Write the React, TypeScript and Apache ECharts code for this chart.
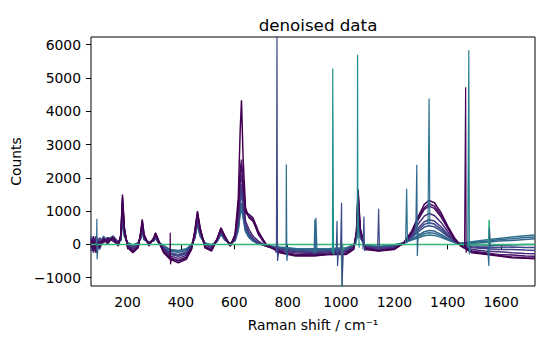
import React, { useEffect, useRef } from "react";
import * as echarts from "echarts";

// Raman shift grid (cm^-1) shared by the broad spectra
const shifts = [
  63, 72, 82, 95, 110, 125, 145, 165, 175, 181, 188, 200, 220, 240, 250, 255, 262, 280, 298, 305,
  315, 335, 360, 390, 420, 440, 452, 462, 472, 490, 515, 535, 550, 565, 585, 603, 615, 622, 627, 633,
  642, 655, 670, 690, 720, 770, 830, 900, 960, 1020, 1048, 1058, 1064, 1072, 1090, 1140, 1200, 1235, 1265, 1290,
  1312, 1330, 1350, 1375, 1400, 1425, 1450, 1490, 1540, 1590, 1640, 1690, 1727,
];

// denoised spectra (counts), from tallest (dark purple) to flattest (blue)
const specA = [
  150, -200, 100, -100, 150, 50, 200, -50, 300, 1500, 500, -100, -250, -100, 400, 750, 300, -50, 200, 350,
  150, -250, -450, -550, -450, -150, 400, 1000, 500, -100, -200, 150, 500, 250, -50, 300, 1400, 3400, 4330, 2600,
  1100, 800, 700, 350, 0, -250, -350, -350, -300, -300, -150, 400, 1650, 500, -150, -200, -150, 50, 400, 850,
  1200, 1320, 1250, 950, 550, 200, -50, -250, -300, -350, -400, -420, -430,
];
const specH = [
  0, 100, -250, 50, 120, 120, 180, -20, 280, 1400, 480, -80, -220, -80, 380, 700, 280, -20, 180, 330,
  120, -220, -420, -500, -420, -120, 380, 950, 480, -80, -180, 140, 480, 230, -40, 280, 1150, 2100, 2400, 1900,
  1000, 900, 800, 400, -20, -230, -330, -330, -300, -280, -120, 380, 1550, 450, -120, -190, -140, 40, 370, 800,
  1100, 1220, 1150, 880, 500, 170, -50, -230, -280, -330, -380, -400, -410,
];
const specB = [
  -100, 250, -150, 100, 50, 200, 100, 0, 250, 1300, 450, -50, -200, -50, 350, 650, 250, 0, 150, 300,
  100, -200, -400, -480, -380, -100, 350, 900, 450, -50, -150, 150, 450, 200, -50, 250, 1000, 2200, 2550, 1700,
  950, 850, 750, 300, -50, -200, -300, -300, -280, -250, -100, 350, 1450, 400, -100, -180, -120, 30, 350, 750,
  1050, 1150, 1080, 820, 480, 150, -50, -200, -250, -300, -320, -350, -360,
];
const specC = [
  50, -100, 250, -50, 200, 0, 250, 50, 200, 1200, 400, 0, -150, 0, 300, 600, 200, 50, 150, 280,
  100, -150, -350, -420, -330, -80, 300, 800, 400, 0, -100, 150, 400, 200, 0, 200, 800, 1800, 2100, 1500,
  700, 450, 250, 100, -50, -180, -250, -280, -250, -220, -80, 300, 1300, 350, -80, -150, -100, 20, 300, 620,
  850, 930, 870, 660, 380, 120, -40, -150, -200, -220, -250, -270, -280,
];
const specD = [
  -200, 150, -50, 200, 100, 150, 150, 0, 180, 1100, 350, 0, -120, 20, 250, 550, 180, 50, 130, 250,
  80, -120, -300, -360, -280, -50, 250, 750, 350, 0, -80, 120, 380, 180, 0, 180, 700, 1500, 1800, 1300,
  600, 350, 180, 50, -60, -150, -220, -240, -220, -200, -60, 250, 1150, 300, -60, -120, -80, 20, 250, 500,
  680, 740, 700, 530, 300, 100, -30, -100, -120, -150, -150, -170, -180,
];
const specI = [
  200, -250, 50, -150, 180, 80, 220, 20, 170, 1050, 330, 10, -100, 20, 240, 520, 170, 50, 120, 240,
  80, -100, -280, -330, -250, -40, 240, 720, 320, 10, -60, 110, 360, 160, 0, 170, 650, 1400, 1650, 1200,
  550, 320, 170, 40, -55, -140, -200, -220, -200, -180, -50, 220, 1080, 280, -50, -110, -60, 25, 230, 440,
  600, 650, 610, 460, 260, 90, -20, -80, -90, -90, -80, -90, -90,
];
const specE = [
  100, -150, 200, 0, 150, 100, 200, 50, 150, 1000, 300, 30, -80, 30, 220, 500, 160, 60, 120, 230,
  80, -80, -250, -300, -220, -30, 220, 700, 300, 20, -50, 100, 350, 150, 10, 150, 600, 1300, 1500, 1100,
  500, 300, 150, 30, -50, -120, -180, -200, -180, -160, -40, 200, 1000, 250, -40, -100, -50, 30, 200, 380,
  520, 560, 530, 400, 230, 80, -10, -50, -50, -30, -20, 0, 0,
];
const specF = [
  -50, 200, 0, 150, 100, 200, 150, 50, 130, 900, 280, 50, -50, 40, 200, 450, 150, 60, 110, 200,
  70, -60, -200, -240, -180, -20, 200, 650, 280, 30, -30, 90, 320, 140, 20, 130, 500, 1100, 1250, 950,
  450, 250, 120, 20, -40, -100, -150, -160, -150, -130, -30, 180, 900, 220, -30, -80, -30, 40, 160, 280,
  380, 420, 400, 300, 170, 60, 10, 30, 60, 100, 120, 150, 170,
];
const specJ = [
  -150, 100, 100, -50, 250, 50, 200, 60, 125, 850, 260, 55, -35, 45, 190, 420, 145, 65, 105, 190,
  65, -50, -170, -210, -150, -10, 190, 620, 260, 35, -20, 85, 310, 135, 25, 120, 460, 1000, 1150, 870,
  410, 220, 110, 20, -35, -90, -135, -145, -135, -115, -25, 165, 850, 210, -25, -70, -20, 45, 145, 240,
  320, 350, 335, 255, 150, 60, 25, 55, 95, 140, 170, 205, 225,
];
const specG = [
  250, -100, 150, 50, 200, 150, 250, 80, 120, 800, 250, 60, -20, 50, 180, 400, 140, 70, 100, 180,
  60, -40, -150, -180, -130, 0, 180, 600, 250, 40, -10, 80, 300, 130, 30, 110, 420, 900, 1050, 800,
  380, 200, 100, 20, -30, -80, -120, -130, -120, -100, -20, 150, 800, 200, -20, -60, -10, 50, 130, 200,
  260, 280, 270, 210, 130, 60, 40, 80, 130, 180, 220, 260, 280,
];
const spectra = [specG, specJ, specF, specE, specI, specD, specC, specB, specH, specA];
const spectraColors = [
  "#2c728e", "#306a8e", "#33638d", "#3b528b", "#3f4788", "#433e85", "#472a7a", "#471466", "#45085c", "#440154",
];

// flat reference line (green) with its own spikes
const zeroLine = [
  [63, 0], [1001, 0], [1004, -1300], [1006, 0], [1553, 0], [1555, 740], [1557, 0], [1727, 0],
];

// narrow cosmic-ray-like spikes: [shift, counts]
const spike85 = [[80, 0], [84, 100], [85, 770], [86, -450], [90, 0]];
const spike360 = [[355, -350], [359, -400], [360, 350], [361, -600], [365, -400]];
const spike760 = [[754, -200], [758, -250], [760, 6400], [762, -500], [766, -250]];
const spike795 = [[790, -250], [794, -200], [795, 2400], [797, -500], [800, -250]];
const spike905 = [[899, -300], [902, 750], [904, -250], [906, 800], [910, -250]];
const spike970 = [[965, -250], [968, -250], [969, 5280], [971, 5280], [972, -300], [976, -250]];
const spike985 = [[982, -250], [985, 700], [987, -650], [990, -250]];
const spike1003 = [[998, -250], [1002, 1250], [1004, -1250], [1008, -250]];
const spike1063 = [[1055, 0], [1061, 300], [1062, 5700], [1063, 1200], [1068, -100]];
const spike1085 = [[1082, -150], [1086, 840], [1088, -200], [1092, -150]];
const spike1141 = [[1137, -150], [1141, 1070], [1144, -150]];
const spike1246 = [[1242, 50], [1246, 1670], [1249, 50]];
const spike1285 = [[1280, 300], [1284, 2390], [1286, -350], [1290, 400]];
const spike1330 = [[1326, 600], [1330, 4380], [1333, 600]];
const spike1468 = [[1463, -100], [1467, 4720], [1469, -250], [1472, -100]];
const spike1480 = [[1475, -100], [1479, 5830], [1481, -300], [1485, -100]];
const spike1555 = [[1550, -150], [1554, -650], [1556, 500], [1560, -150]];

const spikes = [
  { data: spike85, color: "#31688e" },
  { data: spike360, color: "#440154" },
  { data: spike795, color: "#2c6a8e" },
  { data: spike905, color: "#31688e" },
  { data: spike970, color: "#21918c" },
  { data: spike985, color: "#3b528b" },
  { data: spike1003, color: "#3e4a89" },
  { data: spike1063, color: "#23898e" },
  { data: spike1085, color: "#3b528b" },
  { data: spike1141, color: "#3e4a89" },
  { data: spike1246, color: "#2c728e" },
  { data: spike1285, color: "#31688e" },
  { data: spike1330, color: "#2c728e" },
  { data: spike1480, color: "#27808e" },
  { data: spike1468, color: "#46075a" },
  { data: spike1555, color: "#31688e" },
  { data: spike760, color: "#3e4a89" },
];

const xTicks = [200, 400, 600, 800, 1000, 1200, 1400, 1600];
const yTicks = [-1000, 0, 1000, 2000, 3000, 4000, 5000, 6000];

const FONT = "DejaVu Sans";

export default function App() {
  const ref = useRef<HTMLDivElement>(null);
  useEffect(() => {
    const chart = echarts.init(ref.current!, null, { renderer: "svg" });
    const series: any[] = [];
    spectra.forEach((arr, k) => {
      series.push({
        type: "line",
        data: shifts.map((x, i) => [x, arr[i]]),
        showSymbol: false,
        symbol: "none",
        silent: true,
        lineStyle: { color: spectraColors[k], width: 1.5 },
        z: 2,
      });
    });
    series.push({
      type: "line",
      data: zeroLine,
      showSymbol: false,
      symbol: "none",
      silent: true,
      lineStyle: { color: "#35b779", width: 1.5 },
      z: 3,
    });
    spikes.forEach((s) => {
      series.push({
        type: "line",
        data: s.data,
        showSymbol: false,
        symbol: "none",
        silent: true,
        lineStyle: { color: s.color, width: 1.2 },
        z: 4,
      });
    });
    chart.setOption({
      animation: false,
      backgroundColor: "#fff",
      title: {
        text: "denoised data",
        left: 313,
        top: 11,
        textAlign: "center",
        textStyle: { fontFamily: FONT, fontSize: 16.7, fontWeight: "normal", color: "#000" },
      },
      grid: {
        left: 91,
        right: 15,
        top: 37,
        bottom: 64,
        show: true,
        borderColor: "#000",
        borderWidth: 1,
        backgroundColor: "transparent",
      },
      xAxis: {
        type: "value",
        min: 63,
        max: 1727,
        name: "Raman shift / cm⁻¹",
        nameLocation: "middle",
        nameGap: 32,
        nameTextStyle: { fontFamily: FONT, fontSize: 13.9, color: "#000" },
        axisLine: { show: false },
        splitLine: { show: false },
        axisTick: { show: true, length: 5, customValues: xTicks, lineStyle: { color: "#000" } },
        axisLabel: {
          customValues: xTicks,
          margin: 9,
          fontFamily: FONT,
          fontSize: 13.9,
          color: "#000",
          formatter: (v: number) => String(v),
        },
      },
      yAxis: {
        type: "value",
        min: -1250,
        max: 6230,
        name: "Counts",
        nameLocation: "middle",
        nameGap: 62,
        nameTextStyle: { fontFamily: FONT, fontSize: 13.9, color: "#000" },
        axisLine: { show: false },
        splitLine: { show: false },
        axisTick: { show: true, length: 5, customValues: yTicks, lineStyle: { color: "#000" } },
        axisLabel: {
          customValues: yTicks,
          margin: 10,
          fontFamily: FONT,
          fontSize: 13.9,
          color: "#000",
          formatter: (v: number) => String(v).replace("-", "\u2212"),
        },
      },
      series,
    });
    return () => chart.dispose();
  }, []);
  return (
    <div
      ref={ref}
      style={{ position: "fixed", left: 0, top: 0, width: 550, height: 350, background: "#fff" }}
    />
  );
}
